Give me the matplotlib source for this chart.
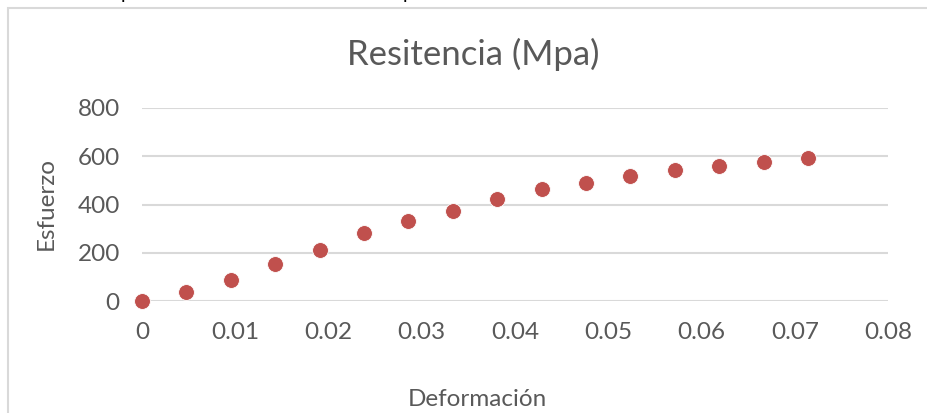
import matplotlib
matplotlib.use("Agg")
from matplotlib import pyplot as plt
from matplotlib.patches import Rectangle

# data
deformacion = [0, 0.00476, 0.00952, 0.01429, 0.01905, 0.02381, 0.02857, 0.03333,
               0.0381, 0.04286, 0.04762, 0.05238, 0.05714, 0.0619, 0.06667, 0.07143]
esfuerzo = [0, 37, 89, 152, 210, 283, 332, 375, 422, 463, 491, 518, 542, 561, 578, 592]
x_ticks = [0, 0.01, 0.02, 0.03, 0.04, 0.05, 0.06, 0.07, 0.08]
x_labels = ["0", "0.01", "0.02", "0.03", "0.04", "0.05", "0.06", "0.07", "0.08"]
y_ticks = [0, 200, 400, 600, 800]

plt.rcParams['font.family'] = ['Lato', 'DejaVu Sans']
text_col = "#595959"
grid_col = "#d9d9d9"

W, H = 927, 413
fig = plt.figure(figsize=(W / 100, H / 100), dpi=100)

# chart frame
fig.patches.append(Rectangle((8 / W, -0.01), 1.0, 1 - 8 / H + 0.01, transform=fig.transFigure,
                             fill=False, edgecolor=grid_col, linewidth=1.5))
# cut-off text above the chart (only the descenders show)
fig.text(126 / W, 1 + 1 / H, "p", fontsize=14, color="black", va="baseline", ha="center")
fig.text(408 / W, 1 + 1 / H, "p", fontsize=14, color="black", va="baseline", ha="center")

ax = fig.add_axes([142 / W, 1 - 301 / H, (888 - 142) / W, (301 - 108) / H])
ax.scatter(deformacion, esfuerzo, s=130, color="#C0504D", edgecolor="white",
           linewidth=0.6, zorder=3, clip_on=False)
ax.set_xlim(0, 0.08)
ax.set_ylim(0, 800)
ax.set_xticks(x_ticks)
ax.set_xticklabels(x_labels)
ax.set_yticks(y_ticks)
ax.grid(axis="y", color=grid_col, linewidth=1.5)
ax.set_axisbelow(True)
for s in ax.spines.values():
    s.set_visible(False)
ax.tick_params(length=0, labelsize=17.5, labelcolor=text_col)
ax.tick_params(axis="x", pad=15)
ax.tick_params(axis="y", pad=16)

fig.text(473 / W, 1 - 54 / H, "Resitencia (Mpa)", fontsize=25, color=text_col,
         ha="center", va="center")
fig.text(477 / W, 1 - 400 / H, "Deformación", fontsize=17.5, color=text_col,
         ha="center", va="center")
fig.text(46 / W, 1 - 203 / H, "Esfuerzo", fontsize=17.5, color=text_col,
         ha="center", va="center", rotation=90)

fig.savefig("out.png", dpi=100)
